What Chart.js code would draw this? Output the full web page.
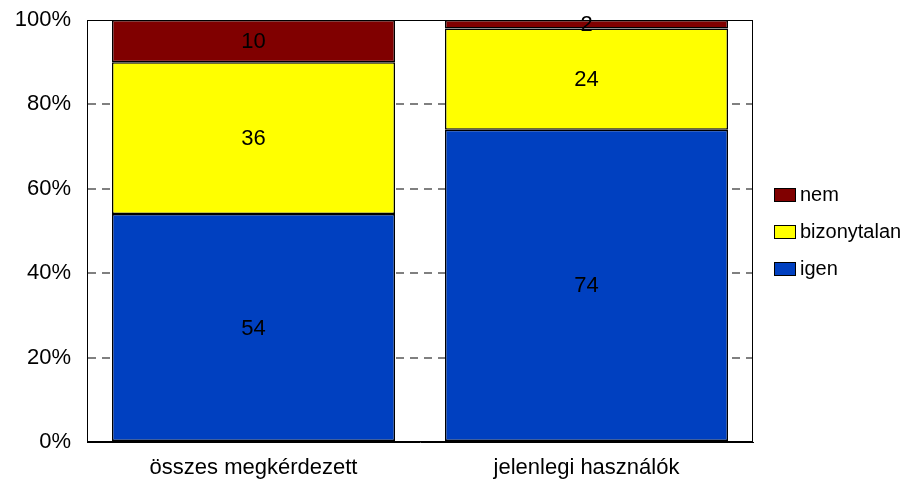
<!DOCTYPE html>
<html>
<head>
<meta charset="utf-8">
<script src="https://cdn.jsdelivr.net/npm/chart.js@4"></script>
<style>
  body { margin: 0; background: #fff; }
  canvas { display: block; }
</style>
</head>
<body>
<canvas id="grafikon" width="907" height="480"></canvas>
<script>
// Adatok
const kategoriak = ["összes megkérdezett", "jelenlegi használók"];
const igen = [54, 74];
const bizonytalan = [36, 24];
const nem = [10, 2];
const yTickek = [0, 20, 40, 60, 80, 100];

const betu = '"Liberation Sans", Arial, sans-serif';

// Értékek a sávok közepére
const ertekCimkek = {
    id: 'ertekCimkek',
    afterDatasetsDraw(chart) {
        const ctx = chart.ctx;
        ctx.save();
        ctx.font = '22px ' + betu;
        ctx.fillStyle = '#000';
        ctx.textAlign = 'center';
        ctx.textBaseline = 'middle';
        chart.data.datasets.forEach((ds, i) => {
            chart.getDatasetMeta(i).data.forEach((bar, j) => {
                ctx.fillText(ds.data[j], bar.x, (bar.y + bar.base) / 2 + 1);
            });
        });
        ctx.restore();
    }
};

// Keret a rajzterület körül + jelmagyarázat
const keretEsJelmagyarazat = {
    id: 'keretEsJelmagyarazat',
    afterDraw(chart) {
        const ctx = chart.ctx;
        const a = chart.chartArea;
        ctx.save();
        ctx.strokeStyle = '#000';
        ctx.lineWidth = 1;
        ctx.strokeRect(Math.round(a.left) + 0.5, Math.round(a.top) + 0.5,
            Math.round(a.right - a.left) - 1, Math.round(a.bottom - a.top) - 1);

        // jelmagyarázat fordított sorrendben
        const ds = chart.data.datasets.slice().reverse();
        const x = a.right + 21;
        let y = 188;
        ctx.font = '20px ' + betu;
        ctx.textBaseline = 'middle';
        ds.forEach(d => {
            ctx.fillStyle = d.backgroundColor;
            ctx.fillRect(x, y, 21, 13);
            ctx.strokeStyle = '#000';
            ctx.strokeRect(x + 0.5, y + 0.5, 21, 13);
            ctx.fillStyle = '#000';
            ctx.fillText(d.label, x + 26, y + 7);
            y += 37;
        });
        ctx.restore();
    }
};

new Chart(document.getElementById('grafikon'), {
    type: 'bar',
    data: {
        labels: kategoriak,
        datasets: [
            { label: 'igen', data: igen, backgroundColor: '#0040C0' },
            { label: 'bizonytalan', data: bizonytalan, backgroundColor: '#FFFF00' },
            { label: 'nem', data: nem, backgroundColor: '#800000' }
        ].map(d => Object.assign(d, {
            borderColor: '#000',
            borderWidth: 1.5,
            borderSkipped: false,
            barPercentage: 0.85,
            categoryPercentage: 1
        }))
    },
    options: {
        responsive: false,
        animation: false,
        layout: { padding: { top: 20, right: 154, left: 0, bottom: 0 } },
        plugins: {
            legend: { display: false },
            tooltip: { enabled: false }
        },
        scales: {
            x: {
                stacked: true,
                grid: { display: false, drawTicks: false },
                border: { color: '#000' },
                ticks: { color: '#000', font: { family: betu, size: 22 }, padding: 13 },
                afterFit(s) { s.height = 38; s.paddingLeft = 0; s.paddingRight = 0; }
            },
            y: {
                stacked: true,
                min: 0,
                max: 100,
                afterBuildTicks(s) { s.ticks = yTickek.map(v => ({ value: v })); },
                grid: {
                    drawTicks: false,
                    color: c => (c.tick.value === 0 || c.tick.value === 100) ? 'rgba(0,0,0,0)' : '#808080',
                    lineWidth: 2
                },
                border: { color: '#000', dash: [8, 6] },
                ticks: {
                    color: '#000',
                    font: { family: betu, size: 22 },
                    padding: 16,
                    callback: v => v + '%'
                },
                afterFit(s) { s.width = 87; s.paddingTop = 0; s.paddingBottom = 0; }
            }
        }
    },
    plugins: [ertekCimkek, keretEsJelmagyarazat]
});
</script>
</body>
</html>
